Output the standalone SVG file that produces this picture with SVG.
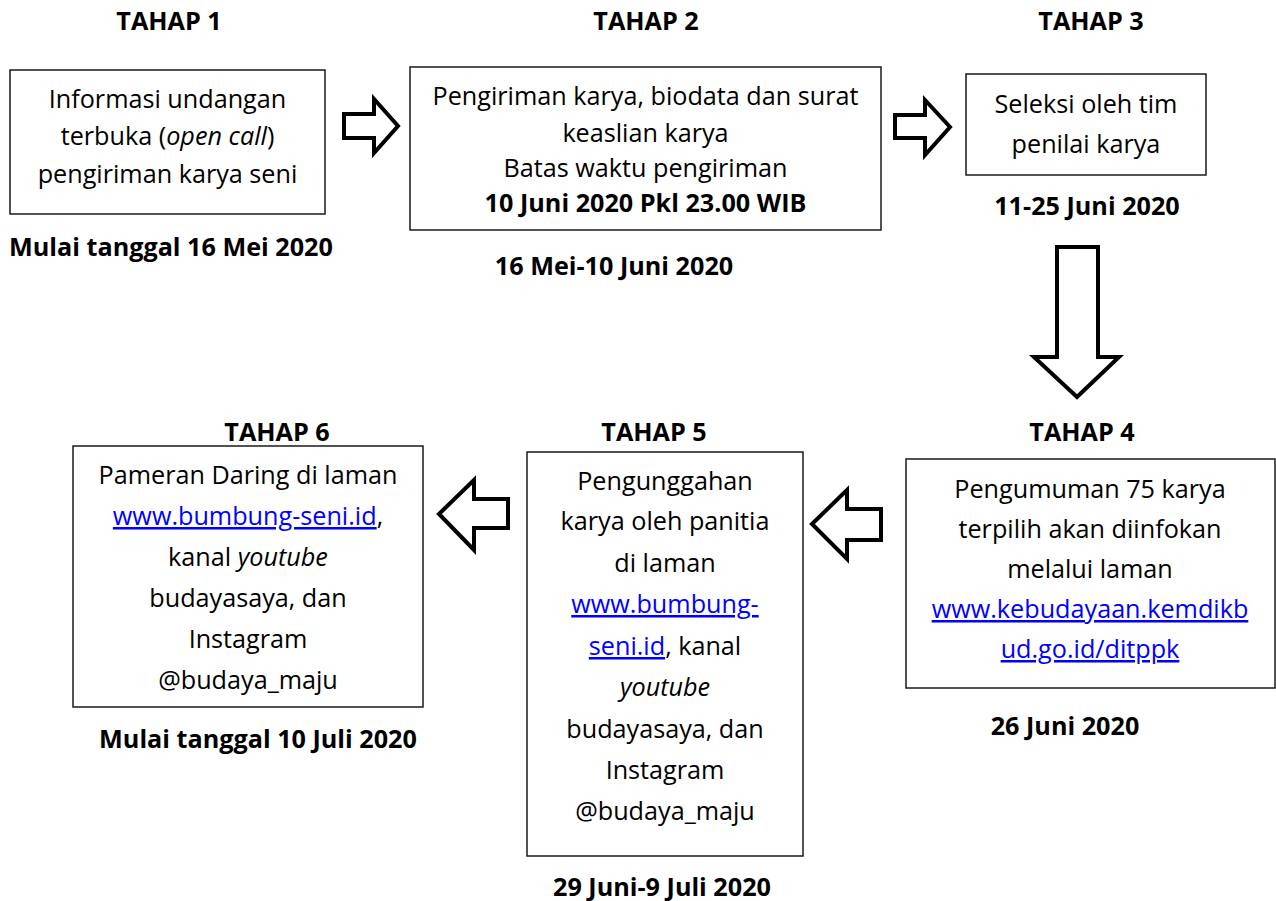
<svg xmlns="http://www.w3.org/2000/svg" width="1276" height="901" viewBox="0 0 1276 901">
<style>
text{font-family:"Open Sans","Noto Sans","Liberation Sans",sans-serif;font-size:25.2px;fill:#000;text-anchor:middle}
.b{font-weight:bold}
.i{font-style:italic}
.lk{fill:#0000ff;text-decoration:underline}
.box{fill:#fff;stroke:#1a1a1a;stroke-width:1.5}
.arr{fill:#fff;stroke:#000;stroke-width:4;stroke-linejoin:miter}
</style>
<rect width="1276" height="901" fill="#fff"/>
<g id="tahap1">
<text class="b" x="169" y="30">TAHAP 1</text>
<rect class="box" x="10" y="70" width="315" height="144"/>
<text x="167.5" y="108">Informasi undangan</text>
<text x="167.5" y="145">terbuka (<tspan class="i">open call</tspan>)</text>
<text x="167.5" y="183">pengiriman karya seni</text>
<text class="b" x="171" y="256">Mulai tanggal 16 Mei 2020</text>
</g>
<g id="tahap2">
<text class="b" x="646" y="30">TAHAP 2</text>
<rect class="box" x="410" y="67" width="471" height="163"/>
<text x="645.5" y="105">Pengiriman karya, biodata dan surat</text>
<text x="645.5" y="142">keaslian karya</text>
<text x="645.5" y="177">Batas waktu pengiriman</text>
<text class="b" x="645.5" y="212">10 Juni 2020 Pkl 23.00 WIB</text>
<text class="b" x="614" y="275">16 Mei-10 Juni 2020</text>
</g>
<g id="tahap3">
<text class="b" x="1091" y="30">TAHAP 3</text>
<rect class="box" x="966" y="74" width="240" height="101"/>
<text x="1086" y="113">Seleksi oleh tim</text>
<text x="1086" y="153">penilai karya</text>
<text class="b" x="1087" y="215">11-25 Juni 2020</text>
</g>
<g id="tahap4">
<text class="b" x="1082" y="441">TAHAP 4</text>
<rect class="box" x="906" y="459" width="369" height="229"/>
<text x="1090" y="498">Pengumuman 75 karya</text>
<text x="1090" y="538">terpilih akan diinfokan</text>
<text x="1090" y="578">melalui laman</text>
<text x="1090" y="618"><tspan class="lk">www.kebudayaan.kemdikb</tspan></text>
<text x="1090" y="658"><tspan class="lk">ud.go.id/ditppk</tspan></text>
<text class="b" x="1065" y="735">26 Juni 2020</text>
</g>
<g id="tahap5">
<text class="b" x="654" y="441">TAHAP 5</text>
<rect class="box" x="527" y="452" width="276" height="404"/>
<text x="665" y="490">Pengunggahan</text>
<text x="665" y="530">karya oleh panitia</text>
<text x="665" y="572">di laman</text>
<text x="665" y="613"><tspan class="lk">www.bumbung-</tspan></text>
<text x="665" y="655"><tspan class="lk">seni.id</tspan>, kanal</text>
<text x="665" y="696" class="i">youtube</text>
<text x="665" y="738">budayasaya, dan</text>
<text x="665" y="779">Instagram</text>
<text x="665" y="820">@budaya_maju</text>
<text class="b" x="662" y="896">29 Juni-9 Juli 2020</text>
</g>
<g id="tahap6">
<text class="b" x="277" y="441">TAHAP 6</text>
<rect class="box" x="73" y="446" width="350" height="261"/>
<text x="248" y="484">Pameran Daring di laman</text>
<text x="248" y="525"><tspan class="lk">www.bumbung-seni.id</tspan>,</text>
<text x="248" y="566">kanal <tspan class="i">youtube</tspan></text>
<text x="248" y="607">budayasaya, dan</text>
<text x="248" y="648">Instagram</text>
<text x="248" y="689">@budaya_maju</text>
<text class="b" x="258" y="748">Mulai tanggal 10 Juli 2020</text>
</g>
<g id="connectors">
<path class="arr" d="M344,114 L374,114 L374,99 L398,126 L374,153 L374,138 L344,138 Z"/>
<path class="arr" d="M895,115 L925,115 L925,100 L950,127 L925,155 L925,138 L895,138 Z"/>
<path class="arr" d="M1057,247 L1098,247 L1098,357 L1119,357 L1077,397 L1034,357 L1057,357 Z"/>
<path class="arr" d="M812,524 L847,490 L847,509 L881,509 L881,540 L847,540 L847,559 Z"/>
<path class="arr" d="M439,514 L474,480 L474,499 L508,499 L508,528 L474,528 L474,550 Z"/>
</g>
</svg>
